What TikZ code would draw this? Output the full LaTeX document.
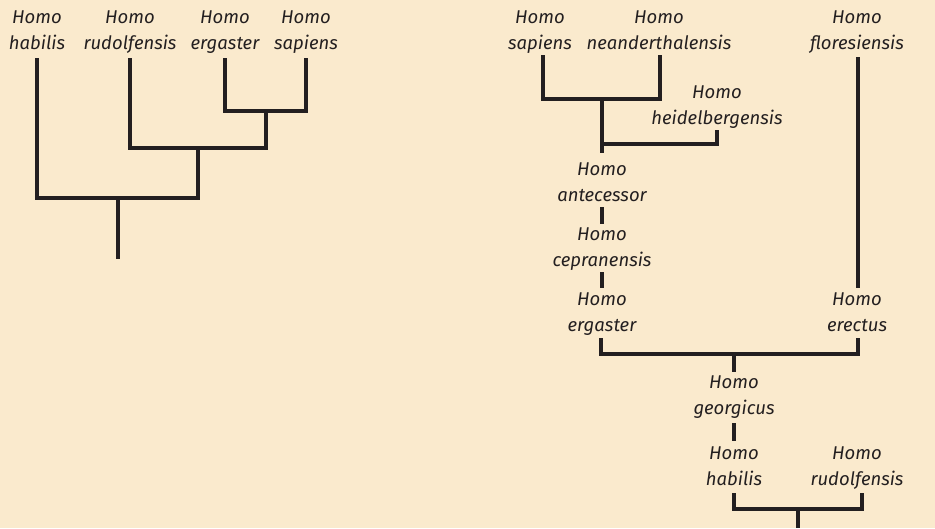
\documentclass[tikz,border=0pt]{standalone}
\usepackage{fontspec}
\setmainfont{Fira Sans}
\definecolor{bg}{HTML}{FAEACD}
\definecolor{ink}{HTML}{231F20}
\begin{document}
\begin{tikzpicture}[x=1pt,y=-1pt,
  lab/.style={inner sep=0pt,align=center,anchor=base,text=ink,
    font=\fontsize{18.5}{26}\selectfont\itshape},
  branch/.style={draw=ink,line width=3.2pt,line cap=butt,line join=miter}]
\fill[bg] (0,0) rectangle (935,528);
\useasboundingbox (0,0) rectangle (935,528);
% left tree
\node[lab] (hab) at (37,49) {Homo\\habilis};
\node[lab] (rud) at (130,49) {Homo\\rudolfensis};
\node[lab] (erg) at (225,49) {Homo\\ergaster};
\node[lab] (sap) at (306,49) {Homo\\sapiens};
\coordinate (L1) at (266,111);
\coordinate (L2) at (198,148);
\coordinate (L3) at (118,198);
\coordinate (L0) at (118,259);
\draw[branch] ([yshift=-9pt]erg.base) |- (L1) -| ([yshift=-9pt]sap.base);
\draw[branch] ([yshift=-9pt]rud.base) |- (L2) -| (L1);
\draw[branch] ([yshift=-9pt]hab.base) |- (L3) -| (L2);
\draw[branch] (L3) -- (L0);
% right tree
\node[lab] (rsap) at (540,49) {Homo\\sapiens};
\node[lab] (rnea) at (659,49) {Homo\\neanderthalensis};
\node[lab] (flo) at (857,49) {Homo\\floresiensis};
\node[lab] (hei) at (717,124) {Homo\\heidelbergensis};
\node[lab] (ant) at (602,201) {Homo\\antecessor};
\node[lab] (cep) at (602,266) {Homo\\cepranensis};
\node[lab] (rerg) at (602,331) {Homo\\ergaster};
\node[lab] (ere) at (857,331) {Homo\\erectus};
\node[lab] (geo) at (734,414) {Homo\\georgicus};
\node[lab] (rhab) at (734,485) {Homo\\habilis};
\node[lab] (rrud) at (857,485) {Homo\\rudolfensis};
\coordinate (R1) at (602,99);
\coordinate (R2) at (602,144);
\coordinate (R3) at (734,354);
\coordinate (R4) at (798,509);
\coordinate (R0) at (798,528);
\draw[branch] ([xshift=3pt,yshift=-6pt]rsap.base) |- (R1) -| ([xshift=1pt,yshift=-6pt]rnea.base);
\draw[branch] (R1) -- ([yshift=48pt]ant.base);
\draw[branch] (R2) -| ([yshift=-6pt]hei.base);
\draw[branch] ([yshift=-6pt]ant.base) -- ([yshift=42pt]cep.base);
\draw[branch] ([yshift=-6pt]cep.base) -- ([yshift=43pt]rerg.base);
\draw[branch] ([xshift=1pt,yshift=-8pt]flo.base) -- ([xshift=1pt,yshift=43pt]ere.base);
\draw[branch] ([xshift=-1pt,yshift=-7pt]rerg.base) |- (R3) -| ([xshift=1pt,yshift=-7pt]ere.base);
\draw[branch] (R3) -- ([yshift=42pt]geo.base);
\draw[branch] ([yshift=-9pt]geo.base) -- ([yshift=44pt]rhab.base);
\draw[branch] ([yshift=-8pt]rhab.base) |- (R4) -| ([xshift=5pt,yshift=-8pt]rrud.base);
\draw[branch] (R4) -- (R0);
\end{tikzpicture}
\end{document}
